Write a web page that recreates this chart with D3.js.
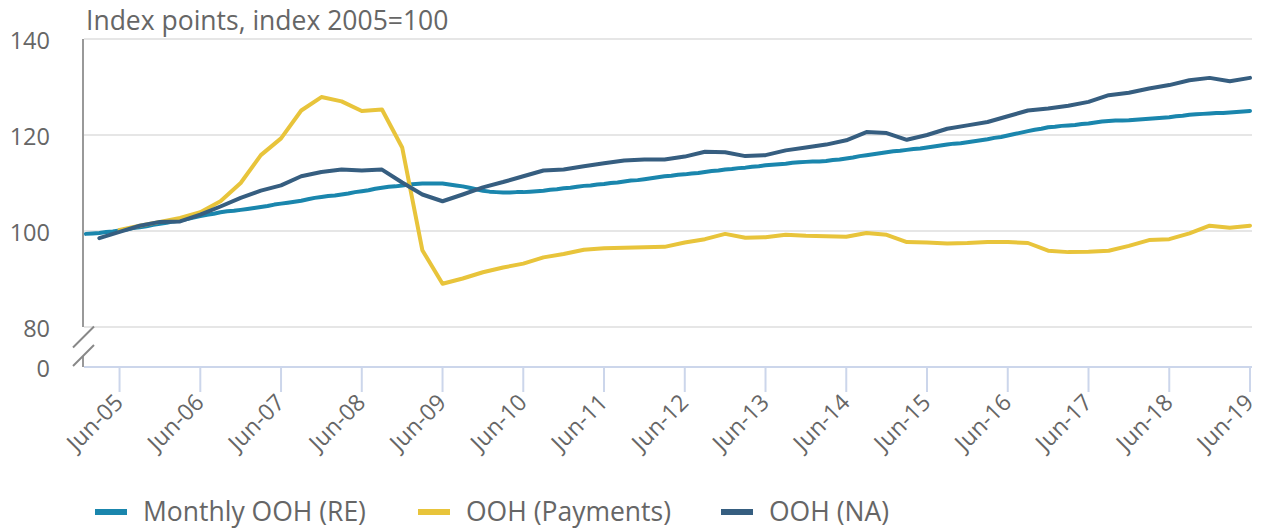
<!DOCTYPE html>
<html>
<head>
<meta charset="utf-8">
<script src="https://cdn.jsdelivr.net/npm/d3@7"></script>
<style>
  body { margin: 0; background: #fff; }
  svg { font-family: 'Open Sans', sans-serif; }
</style>
</head>
<body>
<div id="chart"></div>
<script>
// monthly series starts Jan-05, quarterly series are at Mar/Jun/Sep/Dec
var monthlyRE = [
  99.4, 99.5, 99.6, 99.8, 99.9, 100.1, 100.3, 100.6, 100.8, 101.0, 101.3, 101.5,
  101.7, 102.0, 102.2, 102.5, 102.8, 103.1, 103.4, 103.6, 103.9, 104.1, 104.2, 104.4,
  104.6, 104.8, 105.0, 105.2, 105.5, 105.7, 105.9, 106.1, 106.3, 106.6, 106.9, 107.1,
  107.3, 107.4, 107.6, 107.8, 108.1, 108.3, 108.5, 108.8, 109.0, 109.2, 109.3, 109.5,
  109.7, 109.8, 109.9, 109.9, 109.9, 109.9, 109.7, 109.5, 109.3, 109.0, 108.7, 108.4,
  108.2, 108.1, 108.0, 108.0, 108.1, 108.1, 108.2, 108.3, 108.4, 108.6, 108.7, 108.9,
  109.0, 109.2, 109.4, 109.5, 109.7, 109.8, 110.0, 110.1, 110.3, 110.5, 110.6, 110.8,
  111.0, 111.2, 111.4, 111.5, 111.7, 111.8, 112.0, 112.1, 112.3, 112.5, 112.6, 112.8,
  112.9, 113.1, 113.2, 113.4, 113.5, 113.7, 113.8, 113.9, 114.0, 114.2, 114.3, 114.4,
  114.5, 114.5, 114.6, 114.8, 114.9, 115.1, 115.3, 115.6, 115.8, 116.0, 116.2, 116.4,
  116.6, 116.7, 116.9, 117.1, 117.2, 117.4, 117.6, 117.8, 118.0, 118.2, 118.3, 118.5,
  118.7, 118.9, 119.1, 119.4, 119.6, 119.9, 120.2, 120.5, 120.8, 121.1, 121.3, 121.6,
  121.7, 121.9, 122.0, 122.1, 122.3, 122.4, 122.6, 122.8, 122.9, 123.0, 123.0, 123.05,
  123.2, 123.3, 123.4, 123.5, 123.6, 123.7, 123.9, 124.0, 124.2, 124.3, 124.4, 124.5,
  124.6, 124.6, 124.7, 124.8, 124.9, 125.0
]
// OOH (Payments), quarterly from Jun-05 (month index 5)
var paymentsStart = 5
var payments = [
  100.2, 101.1, 101.9,
  102.7, 103.9, 106.2, 110.0,
  115.8, 119.3, 125.1, 127.9,
  127.0, 125.0, 125.3, 117.4,
  96.0, 89.0, 90.1, 91.4,
  92.4, 93.2, 94.5, 95.2,
  96.1, 96.4, 96.5, 96.6,
  96.7, 97.6, 98.3, 99.4,
  98.6, 98.7, 99.2, 99.0,
  98.9, 98.8, 99.6, 99.2,
  97.7, 97.6, 97.4, 97.5,
  97.7, 97.7, 97.5, 95.9,
  95.6, 95.7, 95.9, 96.9,
  98.1, 98.3, 99.5, 101.1,
  100.7, 101.1
]
// OOH (NA), quarterly from Mar-05 (month index 2)
var naStart = 2
var na = [
  98.5, 99.8, 101.1, 101.9,
  102.0, 103.4, 105.1, 106.9,
  108.4, 109.5, 111.4, 112.3,
  112.8, 112.6, 112.8, 110.1,
  107.6, 106.2, 107.6, 109.1,
  110.2, 111.4, 112.6, 112.8,
  113.5, 114.1, 114.7, 114.9,
  114.9, 115.5, 116.5, 116.4,
  115.6, 115.8, 116.8, 117.4,
  118.0, 118.9, 120.6, 120.4,
  119.0, 120.0, 121.3, 122.0,
  122.7, 123.9, 125.1, 125.5,
  126.1, 126.9, 128.3, 128.8,
  129.7, 130.4, 131.4, 131.9,
  131.2, 131.9
]
var tickLabels = ['Jun-05', 'Jun-06', 'Jun-07', 'Jun-08', 'Jun-09', 'Jun-10', 'Jun-11',
  'Jun-12', 'Jun-13', 'Jun-14', 'Jun-15', 'Jun-16', 'Jun-17', 'Jun-18', 'Jun-19']
var yTicks = [80, 100, 120, 140]
var seriesNames = ['Monthly OOH (RE)', 'OOH (Payments)', 'OOH (NA)']
var colors = ['#1a86ad', '#e8c43b', '#365e80']

var width = 1262
var height = 528

var svg = d3.select('#chart')
  .append('svg')
  .attr('width', width)
  .attr('height', height)

// month index 0 = Jan-05
var x = d3.scaleLinear()
  .domain([0, monthlyRE.length - 1])
  .range([85.9, 1250])

var y = d3.scaleLinear()
  .domain([80, 140])
  .range([327, 39])

var zeroY = 367

// gridlines
svg.append('g')
  .selectAll('line')
  .data(yTicks)
  .enter()
  .append('line')
  .attr('x1', 84)
  .attr('x2', 1252)
  .attr('y1', function (d) { return y(d) })
  .attr('y2', function (d) { return y(d) })
  .attr('stroke', '#e6e6e6')
  .attr('stroke-width', 2)

// y labels
svg.append('g')
  .selectAll('text')
  .data(yTicks)
  .enter()
  .append('text')
  .attr('x', 50)
  .attr('y', function (d) { return y(d) + 2 })
  .attr('dy', '0.35em')
  .attr('text-anchor', 'end')
  .attr('font-size', 23.5)
  .attr('fill', '#666')
  .text(function (d) { return d })

svg.append('text')
  .attr('x', 50)
  .attr('y', zeroY + 2)
  .attr('dy', '0.35em')
  .attr('text-anchor', 'end')
  .attr('font-size', 23.5)
  .attr('fill', '#666')
  .text('0')

// y axis line with break
svg.append('line')
  .attr('x1', 83).attr('x2', 83)
  .attr('y1', y(140)).attr('y2', y(80))
  .attr('stroke', '#999').attr('stroke-width', 2)
svg.append('line')
  .attr('x1', 83).attr('x2', 83)
  .attr('y1', 356).attr('y2', zeroY)
  .attr('stroke', '#999').attr('stroke-width', 2)
svg.append('line')
  .attr('x1', 73).attr('y1', 347.5)
  .attr('x2', 94).attr('y2', 326.5)
  .attr('stroke', '#888').attr('stroke-width', 2)
svg.append('line')
  .attr('x1', 73).attr('y1', 366)
  .attr('x2', 94).attr('y2', 345)
  .attr('stroke', '#888').attr('stroke-width', 2)

// x axis
svg.append('line')
  .attr('x1', 84).attr('x2', 1252)
  .attr('y1', zeroY).attr('y2', zeroY)
  .attr('stroke', '#ccd6eb').attr('stroke-width', 2)

var ticks = svg.append('g')
  .selectAll('g')
  .data(tickLabels)
  .enter()
  .append('g')
  .attr('transform', function (d, i) {
    return 'translate(' + x(5 + i * 12) + ',0)'
  })

ticks.append('line')
  .attr('y1', zeroY)
  .attr('y2', zeroY + 25)
  .attr('stroke', '#ccd6eb')
  .attr('stroke-width', 2)

ticks.append('text')
  .attr('transform', 'translate(5,' + (zeroY + 37) + ') rotate(-45)')
  .attr('text-anchor', 'end')
  .attr('font-size', 23)
  .attr('fill', '#666')
  .text(function (d) { return d })

// title
svg.append('text')
  .attr('x', 86)
  .attr('y', 30)
  .attr('font-size', 26.5)
  .attr('fill', '#666')
  .text('Index points, index 2005=100')

// lines
var line = d3.line()
  .x(function (d) { return x(d[0]) })
  .y(function (d) { return y(d[1]) })

var reData = monthlyRE.map(function (v, i) { return [i, v] })
var payData = payments.map(function (v, i) { return [paymentsStart + i * 3, v] })
var naData = na.map(function (v, i) { return [naStart + i * 3, v] })

svg.append('g')
  .selectAll('path')
  .data([reData, payData, naData])
  .enter()
  .append('path')
  .attr('d', line)
  .attr('fill', 'none')
  .attr('stroke', function (d, i) { return colors[i] })
  .attr('stroke-width', 4)
  .attr('stroke-linejoin', 'round')
  .attr('stroke-linecap', 'round')

// legend
var legendX = [95, 418, 721]
var legend = svg.append('g')
  .selectAll('g')
  .data(seriesNames)
  .enter()
  .append('g')
  .attr('transform', function (d, i) {
    return 'translate(' + legendX[i] + ',512)'
  })

legend.append('line')
  .attr('x1', 0).attr('x2', 32)
  .attr('stroke', function (d, i) { return colors[i] })
  .attr('stroke-width', 6)

legend.append('text')
  .attr('x', 48)
  .attr('dy', '0.35em')
  .attr('font-size', 26.5)
  .attr('fill', '#666')
  .text(function (d) { return d })
</script>
</body>
</html>
